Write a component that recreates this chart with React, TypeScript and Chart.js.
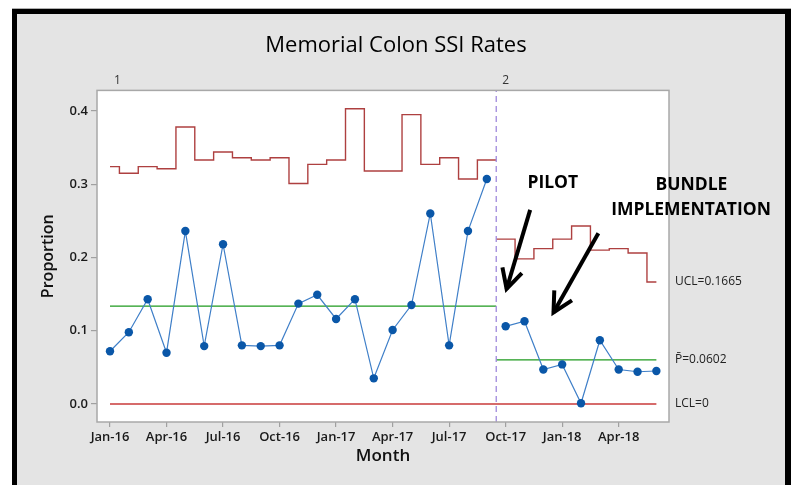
import React, { useEffect, useRef } from "react";
import { Chart, registerables } from "chart.js";

Chart.register(...registerables);

// ---------- data ----------
const months = [
  "Jan-16", "Feb-16", "Mar-16", "Apr-16", "May-16", "Jun-16", "Jul-16", "Aug-16", "Sep-16", "Oct-16",
  "Nov-16", "Dec-16", "Jan-17", "Feb-17", "Mar-17", "Apr-17", "May-17", "Jun-17", "Jul-17", "Aug-17",
  "Sep-17", "Oct-17", "Nov-17", "Dec-17", "Jan-18", "Feb-18", "Mar-18", "Apr-18", "May-18", "Jun-18",
];
const proportion = [
  0.072, 0.098, 0.143, 0.070, 0.236, 0.079, 0.218, 0.080, 0.079, 0.080,
  0.137, 0.149, 0.116, 0.143, 0.035, 0.101, 0.135, 0.260, 0.080, 0.236,
  0.307, 0.106, 0.113, 0.047, 0.054, 0.001, 0.087, 0.047, 0.044, 0.045,
];
const ucl = [
  0.324, 0.315, 0.324, 0.321, 0.378, 0.333, 0.344, 0.336, 0.333, 0.336,
  0.301, 0.327, 0.333, 0.403, 0.318, 0.318, 0.395, 0.327, 0.336, 0.307,
  0.333, 0.225, 0.198, 0.212, 0.225, 0.243, 0.210, 0.212, 0.206, 0.1665,
];
const stageStarts = [0, 21];
const stageNames = ["1", "2"];
const centerLines = [0.1335, 0.0602];
const lclValue = 0;
const xTickIdx = [0, 3, 6, 9, 12, 15, 18, 21, 24, 27];
const xTickLabels = ["Jan-16", "Apr-16", "Jul-16", "Oct-16", "Jan-17", "Apr-17", "Jul-17", "Oct-17", "Jan-18", "Apr-18"];
const yTicks = [0, 0.1, 0.2, 0.3, 0.4];
const xRange = [-0.69, 29.67];
const yRange = [-0.0246, 0.428];

// annotations (data coordinates)
const annotationTexts = [
  { text: "PILOT", x: 23.5, y: 0.3015 },
  { text: "BUNDLE", x: 30.86, y: 0.2988 },
  { text: "IMPLEMENTATION", x: 30.84, y: 0.2647 },
];
const arrows = [
  { from: { x: 22.3, y: 0.265 }, to: { x: 21.05, y: 0.157 } },
  { from: { x: 25.92, y: 0.233 }, to: { x: 23.54, y: 0.125 } },
];

const FONT = "'Open Sans', 'Noto Sans', sans-serif";

function buildDatasets() {
  const n = months.length;
  const ds: any[] = [];
  const stageEnds = stageStarts.map((s, k) => (k + 1 < stageStarts.length ? stageStarts[k + 1] - 1 : n - 1));

  stageStarts.forEach((s, k) => {
    const e = stageEnds[k];
    const idx: number[] = [];
    for (let i = s; i <= e; i++) idx.push(i);
    const leftEdge = k === 0 ? s : s - 0.5;
    const rightEdge = k === stageStarts.length - 1 ? e : e + 0.5;

    const uclPts: any[] = [];
    if (leftEdge !== s) uclPts.push({ x: leftEdge, y: ucl[s] });
    idx.forEach((i) => uclPts.push({ x: i, y: ucl[i] }));
    if (rightEdge !== e) uclPts.push({ x: rightEdge, y: ucl[e] });
    ds.push({
      label: "UCL" + k,
      data: uclPts,
      borderColor: "rgba(160,30,30,0.85)",
      borderWidth: 1.4,
      stepped: "middle",
      pointRadius: 0,
      fill: false,
      order: 3,
    });

    ds.push({
      label: "P" + k,
      data: [
        { x: leftEdge, y: centerLines[k] },
        { x: rightEdge, y: centerLines[k] },
      ],
      borderColor: "#1e9a1e",
      borderWidth: 1.3,
      pointRadius: 0,
      fill: false,
      order: 3,
    });

    ds.push({
      label: "Proportion" + k,
      data: idx.map((i) => ({ x: i, y: proportion[i] })),
      borderColor: "#3f7fc8",
      borderWidth: 1.2,
      pointRadius: 4.2,
      pointBackgroundColor: "#0a57a8",
      pointBorderColor: "#0a57a8",
      pointBorderWidth: 0,
      fill: false,
      order: 1,
    });
  });

  ds.push({
    label: "LCL",
    data: [
      { x: 0, y: lclValue },
      { x: n - 1, y: lclValue },
    ],
    borderColor: "#c83a3a",
    borderWidth: 1.3,
    pointRadius: 0,
    fill: false,
    order: 3,
  });

  for (let k = 1; k < stageStarts.length; k++) {
    ds.push({
      label: "Stage" + k,
      data: [
        { x: stageStarts[k] - 0.5, y: yRange[0] },
        { x: stageStarts[k] - 0.5, y: yRange[1] },
      ],
      borderColor: "#9f88dc",
      borderWidth: 1.3,
      borderDash: [6, 4],
      pointRadius: 0,
      fill: false,
      order: 2,
    });
  }
  return ds;
}

const framePlugin = {
  id: "frame",
  beforeDraw(chart: any) {
    const { ctx, width, height, chartArea: a } = chart;
    ctx.save();
    ctx.fillStyle = "#ffffff";
    ctx.fillRect(0, 0, width, height);
    ctx.fillStyle = "#e4e4e4";
    ctx.fillRect(12, 8, 779, height - 8);
    ctx.fillStyle = "#b0b0b0";
    ctx.fillRect(12, 8, 779, 1);
    ctx.fillStyle = "#000000";
    ctx.fillRect(12, 9, 779, 5);
    ctx.fillRect(12, 9, 5, height - 9);
    ctx.fillRect(785, 9, 6, height - 9);
    ctx.fillStyle = "#ffffff";
    ctx.fillRect(a.left, a.top, a.right - a.left, a.bottom - a.top);
    ctx.restore();
  },
  afterDatasetsDraw(chart: any) {
    const { ctx, chartArea: a } = chart;
    ctx.save();
    ctx.strokeStyle = "#a8a8a8";
    ctx.lineWidth = 1.5;
    ctx.strokeRect(a.left, a.top, a.right - a.left, a.bottom - a.top);
    ctx.restore();
  },
  afterDraw(chart: any) {
    const { ctx, chartArea: a } = chart;
    const xs = chart.scales.x;
    const ys = chart.scales.y;
    ctx.save();
    ctx.fillStyle = "#333";
    ctx.font = `12px ${FONT}`;
    ctx.textAlign = "center";
    ctx.textBaseline = "middle";
    stageStarts.forEach((s, k) => {
      const px = k === 0 ? xs.getPixelForValue(s + 0.4) : xs.getPixelForValue(s);
      ctx.fillText(stageNames[k], px, a.top - 10);
    });
    ctx.textAlign = "left";
    ctx.fillStyle = "#222";
    ctx.font = `12px ${FONT}`;
    const lx = a.right + 6;
    ctx.fillText(`UCL=${ucl[ucl.length - 1]}`, lx, ys.getPixelForValue(ucl[ucl.length - 1]));
    ctx.fillText(`P\u0304=${centerLines[centerLines.length - 1].toFixed(4)}`, lx, ys.getPixelForValue(centerLines[centerLines.length - 1]));
    ctx.fillText(`LCL=${lclValue}`, lx, ys.getPixelForValue(lclValue));

    ctx.fillStyle = "#000";
    ctx.font = `bold 17.5px ${FONT}`;
    ctx.textAlign = "center";
    annotationTexts.forEach((t) => {
      ctx.fillText(t.text, xs.getPixelForValue(t.x), ys.getPixelForValue(t.y));
    });
    ctx.strokeStyle = "#000";
    ctx.lineWidth = 4;
    ctx.lineCap = "butt";
    arrows.forEach((ar) => {
      const x1 = xs.getPixelForValue(ar.from.x);
      const y1 = ys.getPixelForValue(ar.from.y);
      const x2 = xs.getPixelForValue(ar.to.x);
      const y2 = ys.getPixelForValue(ar.to.y);
      ctx.beginPath();
      ctx.moveTo(x1, y1);
      ctx.lineTo(x2, y2);
      ctx.stroke();
      const ang = Math.atan2(y1 - y2, x1 - x2);
      const hl = 22;
      const spread = 0.48;
      ctx.beginPath();
      ctx.moveTo(x2 + hl * Math.cos(ang - spread), y2 + hl * Math.sin(ang - spread));
      ctx.lineTo(x2, y2);
      ctx.lineTo(x2 + hl * Math.cos(ang + spread), y2 + hl * Math.sin(ang + spread));
      ctx.stroke();
    });
    ctx.restore();
  },
};

export default function App() {
  const ref = useRef<HTMLCanvasElement | null>(null);
  useEffect(() => {
    if (!ref.current) return;
    Chart.defaults.font.family = FONT;
    const chart = new Chart(ref.current, {
      type: "line",
      data: { datasets: buildDatasets() },
      options: {
        animation: false,
        responsive: false,
        devicePixelRatio: 1,
        layout: { padding: 0 },
        plugins: {
          legend: { display: false },
          tooltip: { enabled: false },
          title: {
            display: true,
            text: "Memorial Colon SSI Rates",
            color: "#000",
            font: { family: FONT, size: 22, weight: 500 },
            padding: { top: 33, bottom: 31 },
          },
        },
        scales: {
          x: {
            type: "linear",
            position: "bottom",
            min: xRange[0],
            max: xRange[1],
            afterBuildTicks: (s: any) => {
              s.ticks = xTickIdx.map((v) => ({ value: v }));
            },
            afterFit: (s: any) => {
              s.height = 63;
            },
            ticks: {
              autoSkip: false,
              maxRotation: 0,
              color: "#1a1a1a",
              font: { family: FONT, size: 13, weight: 600 },
              padding: 2,
              callback: (_v: any, i: number) => xTickLabels[i],
            },
            grid: { drawOnChartArea: false, drawTicks: true, tickLength: 5, color: "#a0a0a0", lineWidth: 1.2 },
            border: { display: false },
            title: {
              display: true,
              text: "Month",
              color: "#111",
              font: { family: FONT, size: 17, weight: 600 },
              padding: { top: 0, bottom: 19 },
            },
          },
          y: {
            type: "linear",
            position: "left",
            min: yRange[0],
            max: yRange[1],
            afterBuildTicks: (s: any) => {
              s.ticks = yTicks.map((v) => ({ value: v }));
            },
            afterFit: (s: any) => {
              s.width = 97;
            },
            ticks: {
              color: "#1a1a1a",
              font: { family: FONT, size: 13, weight: 600 },
              padding: 3,
              callback: (v: any) => Number(v).toFixed(1),
            },
            grid: { drawOnChartArea: false, drawTicks: true, tickLength: 6, color: "#a0a0a0", lineWidth: 1.2 },
            border: { display: false },
            title: {
              display: true,
              text: "Proportion",
              color: "#111",
              font: { family: FONT, size: 16, weight: 600 },
              padding: { top: 39, bottom: 0 },
            },
          },
          yRight: {
            type: "linear",
            position: "right",
            display: true,
            ticks: { display: false },
            grid: { display: false },
            border: { display: false },
            afterFit: (s: any) => {
              s.width = 123;
            },
          },
        },
      } as any,
      plugins: [framePlugin],
    });
    return () => chart.destroy();
  }, []);
  return (
    <div style={{ position: "absolute", left: 0, top: 0, width: 792, height: 485 }}>
      <canvas ref={ref} width={792} height={485} style={{ display: "block", width: 792, height: 485 }} />
    </div>
  );
}
